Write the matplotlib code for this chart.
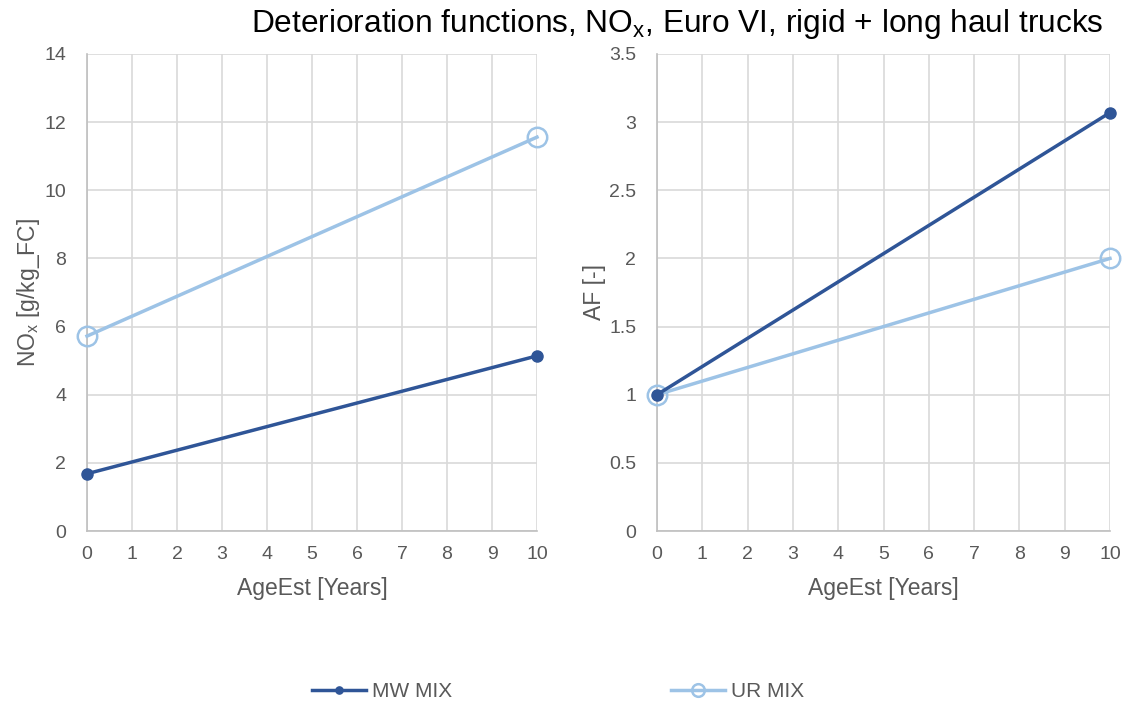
import numpy as np
import matplotlib.pyplot as plt

plt.rcParams["font.family"] = ["Liberation Sans", "DejaVu Sans"]

# ── Data ────────────────────────────────────────────────────────────────────
age = [0, 10]
nox_mw = [1.68, 5.14]
nox_ur = [5.72, 11.56]
af_mw = [1.0, 3.07]
af_ur = [1.0, 2.0]

dark = "#2F5597"
light = "#9DC3E6"
txt = "#595959"
grid = "#D9D9D9"

fig = plt.figure(figsize=(11.32, 7.04), dpi=100)
ax1 = fig.add_axes([87 / 1132, 173 / 704, 450 / 1132, 477 / 704])
ax2 = fig.add_axes([657 / 1132, 173 / 704, 453 / 1132, 477 / 704])


def style(ax, ymax, ystep, ylabel):
    ax.set_xlim(0, 10)
    ax.set_ylim(0, ymax)
    ax.set_xticks(np.arange(0, 11, 1))
    ax.set_yticks(np.arange(0, ymax + ystep / 2, ystep))
    ax.yaxis.set_major_formatter(plt.FuncFormatter(lambda v, p: f"{v:g}"))
    ax.grid(True, color=grid, linewidth=1.2)
    ax.set_axisbelow(True)
    for s in ["top", "right"]:
        ax.spines[s].set_visible(False)
    for s in ["left", "bottom"]:
        ax.spines[s].set_color("#BFBFBF")
        ax.spines[s].set_linewidth(1.2)
    ax.tick_params(length=0, labelsize=14, colors=txt)
    ax.tick_params(axis="x", pad=11)
    ax.tick_params(axis="y", pad=15)
    ax.set_xlabel("AgeEst [Years]", fontsize=16.5, color=txt, labelpad=10)
    ax.set_ylabel(ylabel, fontsize=16.5, color=txt, labelpad=2)


style(ax1, 14, 2, r"NO$_\mathregular{x}$ [g/kg_FC]")
style(ax2, 3.5, 0.5, "AF [-]")

for ax, mw, ur in [(ax1, nox_mw, nox_ur), (ax2, af_mw, af_ur)]:
    ax.plot(age, ur, color=light, linewidth=2.5, marker="o", markersize=14,
            markerfacecolor="none", markeredgecolor=light, markeredgewidth=1.8,
            clip_on=False, zorder=3, label="UR MIX")
    ax.plot(age, mw, color=dark, linewidth=2.5, marker="o", markersize=8,
            clip_on=False, zorder=4, label="MW MIX")

fig.text(0.975, 0.966, r"Deterioration functions, NO$_\mathregular{x}$, Euro VI, rigid + long haul trucks",
         ha="right", va="center", fontsize=22.8, color="black")

h, l = ax1.get_legend_handles_labels()
leg = fig.legend([h[1], h[0]], [l[1], l[0]], loc="center", bbox_to_anchor=(0.493, 0.018),
                 ncol=2, frameon=False, fontsize=15, columnspacing=10.5, handlelength=2.6,
                 handletextpad=0.3, markerscale=0.65)
for t in leg.get_texts():
    t.set_color(txt)

fig.savefig("out.png", dpi=100)
